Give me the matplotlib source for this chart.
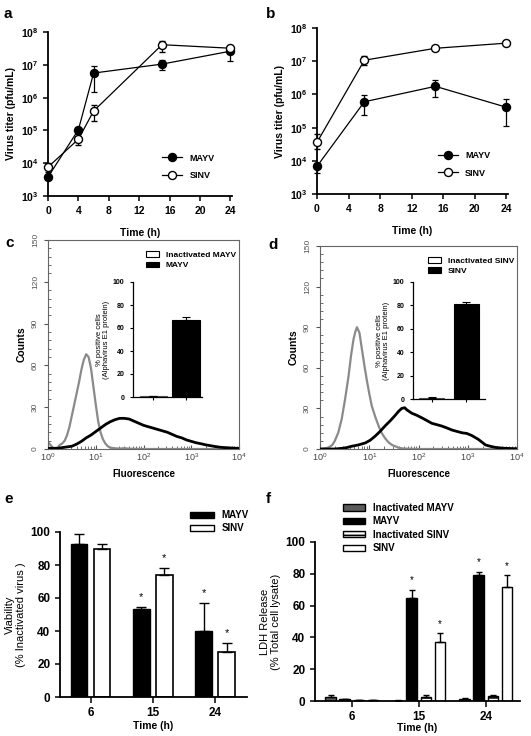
import matplotlib
matplotlib.use('Agg')
import matplotlib.pyplot as plt
import numpy as np
from matplotlib.patches import Patch
from matplotlib.lines import Line2D
from matplotlib.ticker import FixedLocator, LogLocator, NullFormatter

plt.rcParams['font.family'] = ['Liberation Sans', 'DejaVu Sans']
plt.rcParams['mathtext.fontset'] = 'custom'
plt.rcParams['mathtext.rm'] = 'Liberation Sans'
plt.rcParams['mathtext.bf'] = 'Liberation Sans:bold'
plt.rcParams['hatch.linewidth'] = 1.2

# ---------------- data ----------------
# panel a
a_time = [0, 4, 6, 15, 24]
a_mayv = [3.8e3, 1.05e5, 5.6e6, 1.05e7, 2.6e7]
a_mayv_lo = [3.4e3, 9.0e4, 1.5e6, 6.8e6, 1.3e7]
a_mayv_hi = [4.3e3, 1.2e5, 9.5e6, 1.45e7, 3.3e7]
a_sinv = [7.6e3, 5.4e4, 3.9e5, 4.1e7, 3.2e7]
a_sinv_lo = [5.5e3, 3.5e4, 2.0e5, 2.4e7, 2.9e7]
a_sinv_hi = [1.0e4, 8.0e4, 5.8e5, 5.5e7, 3.5e7]
# panel b
b_time = [0, 6, 15, 24]
b_mayv = [6.8e3, 6.0e5, 1.75e6, 4.1e5]
b_mayv_lo = [4.2e3, 2.4e5, 8.2e5, 1.15e5]
b_mayv_hi = [8.5e3, 9.5e5, 2.8e6, 7.2e5]
b_sinv = [3.6e4, 1.07e7, 2.45e7, 3.5e7]
b_sinv_lo = [2.2e4, 7.5e6, 2.2e7, 3.2e7]
b_sinv_hi = [6.6e4, 1.45e7, 2.8e7, 3.9e7]
titer_ticks = [1e3, 1e4, 1e5, 1e6, 1e7, 1e8]
titer_labels = [r'$\mathbf{10^{3}}$', r'$\mathbf{10^{4}}$', r'$\mathbf{10^{5}}$',
                r'$\mathbf{10^{6}}$', r'$\mathbf{10^{7}}$', r'$\mathbf{10^{8}}$']
time_ticks = [0, 4, 8, 12, 16, 20, 24]

# panel c histograms (log10 fluorescence, counts)
c_gray_logx = [0.0, 0.05, 0.10, 0.15, 0.20, 0.25, 0.30, 0.35, 0.40, 0.45, 0.50, 0.55,
               0.60, 0.65, 0.70, 0.75, 0.80, 0.85, 0.90, 0.95, 1.00, 1.05, 1.10, 1.15,
               1.20, 1.25, 1.30, 1.40, 1.50, 1.60, 1.70, 2.00, 3.00, 4.00]
c_gray_cnt = [5, 3, 1, 0.5, 1, 3, 4, 6, 10, 16, 24, 32,
              40, 48, 57, 64, 68, 66, 58, 45, 32, 20, 12, 7,
              4, 2, 1, 0.5, 0.3, 0.6, 0.2, 0, 0, 0]
c_black_logx = [0.0, 0.2, 0.3, 0.4, 0.5, 0.6, 0.7, 0.8, 0.9, 1.0, 1.1, 1.2, 1.3, 1.4,
                1.5, 1.6, 1.7, 1.8, 1.9, 2.0, 2.1, 2.2, 2.3, 2.4, 2.5, 2.6, 2.7, 2.8,
                2.9, 3.0, 3.1, 3.2, 3.3, 3.4, 3.5, 3.6, 3.7, 3.8, 3.9, 4.0]
c_black_cnt = [0.5, 0.5, 1, 1.5, 2, 3.5, 5.5, 8, 10, 12.5, 15, 17.5, 19.5, 21,
               22, 22, 21.5, 20, 18.5, 17, 16, 15, 14, 13, 12, 10.5, 9, 8,
               6.5, 5.5, 4.5, 3.8, 3, 2.4, 1.8, 1.3, 1.0, 0.8, 0.6, 0.4]
# panel d histograms
d_gray_logx = [0.0, 0.10, 0.17, 0.25, 0.30, 0.37, 0.44, 0.51, 0.58, 0.63, 0.68, 0.72,
               0.75, 0.80, 0.85, 0.90, 0.95, 1.00, 1.05, 1.12, 1.19, 1.25, 1.32, 1.39,
               1.46, 1.53, 1.59, 1.70, 2.00, 4.00]
d_gray_cnt = [0, 0.5, 1, 3, 6, 12, 22, 37, 54, 69, 81, 87,
              90, 86, 74, 62, 51, 41, 32, 24, 17, 12, 8, 5,
              3, 2, 1, 0.3, 0, 0]
d_black_logx = [0.0, 0.30, 0.44, 0.54, 0.64, 0.78, 0.92, 1.02, 1.12, 1.22, 1.32, 1.43,
                1.53, 1.60, 1.66, 1.72, 1.76, 1.86, 1.96, 2.07, 2.17, 2.27, 2.37, 2.47,
                2.58, 2.68, 2.78, 2.88, 2.98, 3.08, 3.15, 3.22, 3.29, 3.36, 3.46, 3.56,
                3.66, 3.76, 3.90, 4.00]
d_black_cnt = [0, 0, 0.5, 1, 2, 3, 4.5, 6.5, 9.5, 13, 17, 21,
               25, 28, 30, 30.5, 29, 26.5, 25, 23, 21, 19, 18, 17,
               15.5, 14, 13, 12, 11.5, 10, 8.5, 7, 5, 3, 2, 1.2,
               0.8, 0.5, 0.3, 0.2]
# insets
c_inset_labels = ['Inactivated MAYV', 'MAYV']
c_inset_vals = [0.5, 67]
c_inset_err = [0.3, 3]
d_inset_labels = ['Inactivated SINV', 'SINV']
d_inset_vals = [1.0, 81]
d_inset_err = [0.6, 1.8]

# panel e
e_times = ['6', '15', '24']
e_mayv = [93, 53.5, 40]
e_mayv_err = [6, 1, 17]
e_sinv = [90, 74, 27.5]
e_sinv_err = [3, 4, 5.5]
e_mayv_star = [False, True, True]
e_sinv_star = [False, True, True]

# panel f
f_times = ['6', '15', '24']
f_series = ['Inactivated MAYV', 'MAYV', 'Inactivated SINV', 'SINV']
f_vals = [[2.5, 0.2, 1.0],
          [1.0, 65, 79.5],
          [0.5, 2.5, 3.0],
          [0.5, 37, 72]]
f_errs = [[1.5, 0.2, 0.8],
          [0.5, 5, 1.5],
          [0.3, 1.2, 1.0],
          [0.3, 5.5, 7]]
f_star = [[False, False, False],
          [False, True, True],
          [False, False, False],
          [False, True, True]]

# ---------------- figure ----------------
W, H = 531, 736
fig = plt.figure(figsize=(W / 100, H / 100), dpi=100)


def box(l, t, r, b):
    return [l / W, 1 - b / H, (r - l) / W, (b - t) / H]


def style_open(ax, lw=1.3):
    for s in ['top', 'right']:
        ax.spines[s].set_visible(False)
    for s in ['left', 'bottom']:
        ax.spines[s].set_linewidth(lw)
    ax.tick_params(width=1.1, length=3.5)


BOLD = 'bold'

# panel a & b
def titer_panel(ax, t, m, mlo, mhi, s, slo, shi):
    style_open(ax)
    ax.set_yscale('log')
    ax.errorbar(t, m, yerr=[np.array(m) - np.array(mlo), np.array(mhi) - np.array(m)],
                color='black', marker='o', ms=5.8, mfc='black', lw=0.9, elinewidth=0.9,
                capsize=2.5, capthick=0.9, clip_on=False, zorder=3)
    ax.errorbar(t, s, yerr=[np.array(s) - np.array(slo), np.array(shi) - np.array(s)],
                color='black', marker='o', ms=5.8, mfc='white', mew=1.0, lw=0.9,
                elinewidth=0.9, capsize=2.5, capthick=0.9, clip_on=False, zorder=3)
    ax.set_ylim(1e3, 1e8)
    ax.set_xlim(0, 24.2)
    ax.yaxis.set_major_locator(FixedLocator(titer_ticks))
    ax.yaxis.set_minor_locator(FixedLocator([]))
    ax.set_yticklabels(titer_labels, fontsize=7.5)
    ax.set_xticks(time_ticks)
    ax.set_xticklabels([str(v) for v in time_ticks], fontsize=7.5, fontweight=BOLD)
    ax.set_ylabel('Virus titer (pfu/mL)', fontsize=7.5, fontweight=BOLD, labelpad=3)
    ax.set_xlabel('Time (h)', fontsize=7.5, fontweight=BOLD, labelpad=9)
    h1 = Line2D([], [], color='black', marker='o', ms=5.8, mfc='black', lw=0.9)
    h2 = Line2D([], [], color='black', marker='o', ms=5.8, mfc='white', lw=0.9)
    ax.legend([h1, h2], ['MAYV', 'SINV'], loc='lower right', frameon=False,
              prop={'size': 6.5, 'weight': 'bold'}, handlelength=2.2,
              bbox_to_anchor=(0.95, 0.05), labelspacing=0.9)


ax_a = fig.add_axes(box(48, 32, 232, 196))
titer_panel(ax_a, a_time, a_mayv, a_mayv_lo, a_mayv_hi, a_sinv, a_sinv_lo, a_sinv_hi)
ax_b = fig.add_axes(box(317, 28, 508, 194))
titer_panel(ax_b, b_time, b_mayv, b_mayv_lo, b_mayv_hi, b_sinv, b_sinv_lo, b_sinv_hi)


# panel c & d
def hist_panel(ax, gx, gc, bx, bc):
    for s in ax.spines.values():
        s.set_linewidth(0.8)
        s.set_color('#666666')
    ax.plot(10 ** np.array(gx), gc, color='#8a8a8a', lw=1.6, zorder=2)
    ax.plot(10 ** np.array(bx), bc, color='black', lw=2.0, zorder=3)
    ax.set_xscale('log')
    ax.set_xlim(1, 1e4)
    ax.set_ylim(0, 150)
    ax.set_yticks([0, 30, 60, 90, 120, 150])
    ax.set_yticklabels(['0', '30', '60', '90', '120', '150'], rotation=90, va='center',
                       fontsize=6, color='#555555')
    ax.yaxis.set_minor_locator(FixedLocator(np.arange(0, 151, 6)))
    ax.tick_params(axis='y', which='major', length=3, width=0.8, color='#555555')
    ax.tick_params(axis='y', which='minor', length=2, width=0.6, direction='in',
                   color='#555555')
    ax.xaxis.set_major_locator(FixedLocator([1, 10, 100, 1000, 10000]))
    ax.set_xticklabels([r'$\mathrm{10^{0}}$', r'$\mathrm{10^{1}}$', r'$\mathrm{10^{2}}$',
                        r'$\mathrm{10^{3}}$', r'$\mathrm{10^{4}}$'], fontsize=6.5,
                       color='#444444')
    ax.xaxis.set_minor_locator(LogLocator(base=10, subs=np.arange(2, 10), numticks=20))
    ax.xaxis.set_minor_formatter(NullFormatter())
    ax.tick_params(axis='x', which='major', length=3, width=0.8, direction='in',
                   color='#555555', pad=2)
    ax.tick_params(axis='x', which='minor', length=2, width=0.6, direction='in',
                   color='#555555')
    ax.set_ylabel('Counts', fontsize=7.5, fontweight=BOLD, labelpad=4)
    ax.set_xlabel('Fluorescence', fontsize=7, fontweight=BOLD, labelpad=4)


def inset_panel(ax, labels, vals, errs, width, xl):
    style_open(ax, lw=0.9)
    ax.tick_params(width=0.8, length=2.5)
    cols = ['white', 'black']
    edges = ['#555555', 'black']
    x = np.arange(len(vals))
    ax.bar(x, vals, width=width, color=cols, edgecolor=edges, linewidth=0.8, zorder=2)
    ax.errorbar(x, vals, yerr=[np.zeros(len(errs)), errs], fmt='none', ecolor='black',
                elinewidth=0.8, capsize=3, capthick=0.8, zorder=3)
    ax.set_ylim(0, 100)
    ax.set_xlim(*xl)
    ax.set_yticks([0, 20, 40, 60, 80, 100])
    ax.set_yticklabels(['0', '20', '40', '60', '80', '100'], fontsize=5, fontweight=BOLD)
    ax.set_xticks(x)
    ax.set_xticklabels(['', ''])
    ax.patch.set_alpha(0)
    ax.set_ylabel('% positive cells\n(Alphavirus E1 protein)', fontsize=5.5,
                  labelpad=2, linespacing=1.0)
    return [Patch(facecolor='white', edgecolor='black', lw=0.8),
            Patch(facecolor='black', edgecolor='black', lw=0.8)]


ax_c = fig.add_axes(box(48, 240, 239, 449))
hist_panel(ax_c, c_gray_logx, c_gray_cnt, c_black_logx, c_black_cnt)
ax_ci = fig.add_axes(box(133, 282, 202, 397))
hc = inset_panel(ax_ci, c_inset_labels, c_inset_vals, c_inset_err, 0.85, (-0.63, 1.5))
ax_c.legend(hc, c_inset_labels, loc='upper right', frameon=False,
            prop={'size': 6, 'weight': 'bold'}, handlelength=1.6, handleheight=0.7,
            bbox_to_anchor=(1.01, 0.97), labelspacing=0.3, borderaxespad=0.2)

ax_d = fig.add_axes(box(320, 246, 517, 449))
hist_panel(ax_d, d_gray_logx, d_gray_cnt, d_black_logx, d_black_cnt)
ax_di = fig.add_axes(box(413, 282, 485, 399))
hd = inset_panel(ax_di, d_inset_labels, d_inset_vals, d_inset_err, 0.7, (-0.53, 1.53))
ax_d.legend(hd, d_inset_labels, loc='upper right', frameon=False,
            prop={'size': 6, 'weight': 'bold'}, handlelength=1.6, handleheight=0.7,
            bbox_to_anchor=(1.01, 0.97), labelspacing=0.3, borderaxespad=0.2)

# panel e
ax_e = fig.add_axes(box(60, 532, 247, 697))
style_open(ax_e)
xg = np.arange(len(e_times))
bw = 0.267
off = 0.185
ax_e.bar(xg - off, e_mayv, width=bw, color='black', edgecolor='black', lw=1.0, zorder=2)
ax_e.bar(xg + off, e_sinv, width=bw, color='white', edgecolor='black', lw=1.2, zorder=2)
ax_e.errorbar(xg - off, e_mayv, yerr=[np.zeros(3), e_mayv_err], fmt='none', ecolor='black',
              elinewidth=1.0, capsize=3.5, capthick=1.0, zorder=3)
ax_e.errorbar(xg + off, e_sinv, yerr=[np.zeros(3), e_sinv_err], fmt='none', ecolor='black',
              elinewidth=1.0, capsize=3.5, capthick=1.0, zorder=3)
for i in range(3):
    if e_mayv_star[i]:
        ax_e.text(xg[i] - off, e_mayv[i] + e_mayv_err[i] + 3, '*', ha='center', va='bottom',
                  fontsize=8)
    if e_sinv_star[i]:
        ax_e.text(xg[i] + off, e_sinv[i] + e_sinv_err[i] + 3, '*', ha='center', va='bottom',
                  fontsize=8)
ax_e.set_ylim(0, 100)
ax_e.set_xlim(-0.49, 2.51)
ax_e.set_yticks([0, 20, 40, 60, 80, 100])
ax_e.set_yticklabels(['0', '20', '40', '60', '80', '100'], fontsize=8.5, fontweight=BOLD)
ax_e.set_xticks(xg)
ax_e.set_xticklabels(e_times, fontsize=8.5, fontweight=BOLD)
ax_e.tick_params(axis='x', length=4)
ax_e.set_ylabel('Viability\n(% Inactivated virus )', fontsize=8, labelpad=3)
ax_e.set_xlabel('Time (h)', fontsize=7.5, fontweight=BOLD, labelpad=1)
he = [Patch(facecolor='black', edgecolor='black'),
      Patch(facecolor='white', edgecolor='black', lw=1.0)]
ax_e.legend(he, ['MAYV', 'SINV'], loc='lower right', frameon=False,
            prop={'size': 7, 'weight': 'bold'}, handlelength=2.4, handleheight=0.6,
            bbox_to_anchor=(1.03, 0.97), labelspacing=0.3, borderaxespad=0)

# panel f
ax_f = fig.add_axes(box(315, 542, 520, 701))
style_open(ax_f)
f_face = ['#5a5a5a', 'black', 'white', 'white']
f_hatch = [None, None, '----', None]
f_off = [-0.315, -0.105, 0.105, 0.315]
fw = 0.16
handles_f = []
for k in range(4):
    ax_f.bar(xg + f_off[k], f_vals[k], width=fw, color=f_face[k], edgecolor='black',
             lw=1.0, hatch=f_hatch[k], zorder=2)
    ax_f.errorbar(xg + f_off[k], f_vals[k], yerr=[np.zeros(3), f_errs[k]], fmt='none',
                  ecolor='black', elinewidth=1.0, capsize=2.5, capthick=1.0, zorder=3)
    for i in range(3):
        if f_star[k][i]:
            ax_f.text(xg[i] + f_off[k], f_vals[k][i] + f_errs[k][i] + 3, '*', ha='center',
                      va='bottom', fontsize=7)
    handles_f.append(Patch(facecolor=f_face[k], edgecolor='black', hatch=f_hatch[k],
                           lw=1.0))
ax_f.set_ylim(0, 100)
ax_f.set_xlim(-0.55, 2.51)
ax_f.set_yticks([0, 20, 40, 60, 80, 100])
ax_f.set_yticklabels(['0', '20', '40', '60', '80', '100'], fontsize=8.5, fontweight=BOLD)
ax_f.set_xticks(xg)
ax_f.set_xticklabels(f_times, fontsize=8.5, fontweight=BOLD)
ax_f.tick_params(axis='x', length=4)
ax_f.set_ylabel('LDH Release\n(% Total cell lysate)', fontsize=8, labelpad=3)
ax_f.set_xlabel('Time (h)', fontsize=7.5, fontweight=BOLD, labelpad=0)
ax_f.legend(handles_f, f_series, loc='upper left', frameon=False,
            prop={'size': 7, 'weight': 'bold'}, handlelength=2.2, handleheight=0.6,
            bbox_to_anchor=(0.12, 1.27), labelspacing=0.35, borderaxespad=0)

# panel letters
for lab, x, y in [('a', 4, 18), ('b', 266, 18), ('c', 5, 247), ('d', 268, 249),
                  ('e', 4, 503), ('f', 266, 503)]:
    fig.text(x / W, 1 - y / H, lab, fontsize=11, fontweight=BOLD, va='baseline')

fig.savefig('out.png', dpi=100)
